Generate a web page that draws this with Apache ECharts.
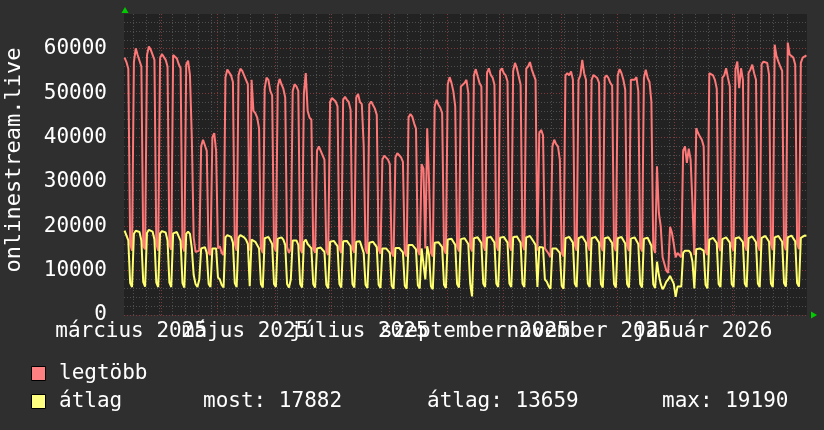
<!DOCTYPE html>
<html><head><meta charset="utf-8">
<script src="https://cdn.jsdelivr.net/npm/echarts@6/dist/echarts.min.js"></script>
<style>html,body{margin:0;padding:0;background:#2f2f2f}#c{width:824px;height:430px}</style>
</head><body><div id="c"></div>
<script>
// x = days since 2025-03-01; first value is Wed 2025-03-12
const startDay = 11;
const maxVals = [
 58000,57000,55500,16000,14500,
 57000,60100,58600,58800,56000,15500,14800,
 58500,60500,59800,59400,57500,16000,14500,
 57900,58800,58500,57500,56000,15800,14700,
 58600,58400,57800,56500,55600,15600,14300,
 56400,57300,54100,40000,17500,14200,13800,
 14500,38000,39500,39300,37000,14000,13500,
 40000,41000,37000,15000,15500,14000,13500,
 53500,55300,55000,54000,52500,16000,14500,
 54000,55500,55000,54000,53000,52000,14500,
 53000,46000,45500,44500,42000,15000,14000,
 51000,53500,53000,50500,49500,15500,14300,
 51500,53200,52000,51000,49000,15300,14000,
 15000,50500,52000,51500,50500,15000,14000,
 50000,54500,46000,44500,44000,15000,14000,
 37000,38000,37000,36000,35000,14500,13500,
 48000,48900,48500,48100,47000,15000,14000,
 48500,49200,48500,48000,46200,15000,14000,
 49000,49800,48000,47500,38300,14800,13800,
 47500,48100,48000,46500,45100,14800,13800,
 35000,35900,35500,35000,34000,14000,13200,
 35500,36500,36000,35500,34500,14000,13200,
 44500,45300,44700,43200,42000,14500,13500,
 34000,33000,15000,42100,30000,14000,13200,
 47000,48500,47400,46700,45500,14800,13800,
 52000,53600,52300,50400,47000,15500,14300,
 51500,51100,52300,53000,50000,15500,14300,
 54000,55400,53800,52300,51500,15800,14500,
 54500,55600,54100,53500,51900,15800,14500,
 55000,55600,54500,54000,52600,15800,14500,
 55000,56800,55600,55300,51900,16000,14600,
 55500,56000,57000,55300,54100,53000,14500,
 41000,41700,40500,15000,14800,13800,13000,
 38000,39500,38500,38000,35000,14000,13200,
 54000,54500,54000,54900,53000,15800,14500,
 53000,54000,57500,54500,53000,15800,14500,
 53000,54100,53800,53400,52300,15600,14400,
 53500,54000,53400,52300,51700,15600,14400,
 54000,55400,54500,53000,50800,15600,14400,
 53000,53400,53000,53600,50400,15500,14300,
 53400,55300,53400,52500,48100,15300,14000,
 33500,23000,20000,13000,11500,10000,9500,
 19900,18500,16000,13000,14000,13500,13000,
 37000,38000,34300,37500,35000,25000,13500,
 42100,41000,40200,39500,38000,14300,13500,
 54500,54500,54000,53000,51000,15600,14400,
 53500,54000,55600,53400,51500,15600,14400,
 55400,57100,51100,55600,53000,15800,14500,
 54500,55300,56400,54500,53000,15800,14500,
 56500,57100,57000,56800,54100,16000,14600,
 60900,58300,57100,56000,55000,16000,14600,
 61400,58700,59000,58000,56400,16200,14800,
 56800,58000,58400,58500
];
const avgVals = [
 19000,18700,16800,7200,6300,
 18300,19000,18900,18700,16800,7400,6400,
 18500,19190,19000,18800,17000,7300,6300,
 18400,18900,18900,18600,16800,7300,6300,
 18400,18800,18700,18500,16700,7200,6200,
 18300,18800,18300,15000,9000,7000,6300,
 8000,15000,15400,15300,14000,7000,6300,
 15000,15400,15000,8500,8000,6800,6200,
 17500,18000,17900,17600,16300,7200,6300,
 17400,18000,17900,17500,17000,16000,6500,
 17000,16800,16500,16200,15000,7000,6200,
 17300,17700,17600,17200,16000,7000,6300,
 17200,17600,17500,17000,15800,7000,6200,
 8000,16800,17000,16800,15800,7000,6200,
 16500,17000,16000,15500,15000,7000,6200,
 15000,15300,15200,15000,14200,6800,6000,
 16500,16800,16700,16500,15500,7000,6200,
 16600,16900,16700,16400,15500,7000,6200,
 16500,16900,16600,16300,14000,6800,6100,
 16300,16600,16500,16200,15300,6800,6100,
 15000,15200,15000,14800,14000,6600,5900,
 15100,15300,15100,14900,14100,6600,5900,
 15800,16000,15800,15500,14800,6700,6000,
 15000,14800,8000,15500,13500,6500,5800,
 16300,16600,16400,16200,15300,6800,6100,
 17000,17400,17200,16900,15800,7000,6200,
 17100,17300,17300,17200,16000,7000,4200,
 17300,17600,17500,17200,16200,7100,6300,
 17400,17700,17600,17300,16300,7100,6300,
 17400,17700,17600,17300,16300,7100,6300,
 17500,17800,17700,17400,16300,7100,6300,
 17500,17800,17800,17400,16500,15800,6300,
 15300,15500,15200,8000,7500,6500,5900,
 15000,15200,15000,14800,14000,6600,5900,
 17300,17600,17600,17500,16300,7100,6300,
 17300,17600,17700,17500,16300,7100,6300,
 17300,17600,17600,17400,16300,7000,6200,
 17300,17600,17500,17300,16200,7000,6200,
 17300,17700,17600,17300,16100,7000,6200,
 17200,17500,17500,17400,16000,7000,6200,
 17200,17600,17400,17200,15600,6900,6100,
 12000,9000,7000,5800,6500,7500,8000,
 8800,8600,7000,4100,6400,6200,6400,
 14000,14500,14300,14500,14000,12000,6000,
 14800,15000,15000,14900,14500,6800,6000,
 17000,17400,17400,17200,16200,7000,6300,
 17100,17500,17500,17300,16300,7000,6300,
 17300,17700,17500,17600,16400,7100,6300,
 17300,17700,17700,17500,16400,7100,6300,
 17400,17800,17800,17600,16500,7100,6300,
 17500,17900,17800,17600,16500,7200,6400,
 17500,17900,17900,17700,16600,7200,6400,
 17400,17800,17900,17882
];
// month labels sit at month start + 15 days
const labelDays = [15, 76, 137, 199, 260, 321];
const monthLabels = ['március 2025','május 2025','július 2025','szeptember 2025','november 2025','január 2026'];
const monthStarts = [31, 61, 92, 122, 153, 184, 214, 245, 275, 306, 337, 365];
const weekStarts = [16,23,30,37,44,51,58,65,72,79,86,93,100,107,114,121,128,135,142,149,156,163,170,177,184,191,198,205,212,219,226,233,240,247,254,261,268,275,282,289,296,303,310,317,324,331,338,345,352,359,366,373];
const yTitle = 'onlinestream.live';
const legendNames = ['legtöbb', 'átlag'];
const statTexts = ['most: 17882', 'átlag: 13659', 'max: 19190'];

const FONT = '"DejaVu Sans Mono", monospace';
const RED = '#ff7878', YEL = '#ffff70';
const minorGrid = {show:true, showMaxLine:false, lineStyle:{color:'#4e4e4e', type:[1,2], width:1}};
const majorGrid = {show:true, showMaxLine:false, lineStyle:{color:'#7e3a3a', type:[1,2], width:1}};
const labelsA = labelDays.filter((d,i)=>i%2===0);
const labelsB = labelDays.filter((d,i)=>i%2===1);
const fmt = (v)=>{const i=labelDays.indexOf(Math.round(v)); return i>=0?monthLabels[i]:'';};
const xLabel = (vals)=>({customValues:vals, hideOverlap:false, showMinLabel:true, showMaxLabel:true,
  color:'#ffffff', fontFamily:FONT, fontSize:21, margin:6, formatter:fmt});

const chart = echarts.init(document.getElementById('c'), null, {renderer:'canvas'});
chart.setOption({
  backgroundColor:'#2f2f2f',
  animation:false,
  grid:{left:124, right:17, top:14, bottom:115, show:true, backgroundColor:'#222222', borderWidth:0, containLabel:false, outerBoundsMode:'none'},
  xAxis:[
    {type:'value', min:11.2, max:376.8, position:'bottom',
     axisLine:{show:false}, axisTick:{show:false, customValues:weekStarts},
     splitLine:minorGrid, axisLabel:xLabel(labelsA)},
    {type:'value', min:11.2, max:376.8, position:'bottom',
     axisLine:{show:false}, axisTick:{show:false, customValues:monthStarts},
     splitLine:majorGrid, axisLabel:xLabel(labelsB)}
  ],
  yAxis:[
    {type:'value', min:0, max:67830, interval:2000, position:'left',
     axisLine:{show:false}, axisTick:{show:false}, axisLabel:{show:false}, splitLine:minorGrid},
    {type:'value', min:0, max:67830, interval:10000, position:'left',
     axisLine:{show:false}, axisTick:{show:false}, splitLine:majorGrid,
     axisLabel:{color:'#ffffff', fontFamily:FONT, fontSize:21, margin:17, showMaxLabel:false,
       formatter:(v)=>String(v)}}
  ],
  series:[
    {type:'line', name:legendNames[0], xAxisIndex:0, yAxisIndex:0, showSymbol:false, symbol:'none',
     lineStyle:{color:RED, width:2}, data:maxVals.map((v,i)=>[startDay+i+0.5, v]), z:3},
    {type:'line', name:legendNames[1], xAxisIndex:0, yAxisIndex:0, showSymbol:false, symbol:'none',
     lineStyle:{color:YEL, width:2}, data:avgVals.map((v,i)=>[startDay+i+0.5, v]), z:4}
  ],
  graphic:[
    {type:'polygon', shape:{points:[[121.5,13],[128.5,13],[125,7]]}, style:{fill:'#00cc00'}},
    {type:'polygon', shape:{points:[[811,311.5],[811,318.5],[817,315]]}, style:{fill:'#00cc00'}},
    {type:'text', x:14, y:160, rotation:Math.PI/2, style:{text:yTitle, font:'22px '+FONT, fill:'#ffffff', align:'center', verticalAlign:'middle'}},
    {type:'rect', shape:{x:31.5, y:366.5, width:14, height:14}, style:{fill:'#ff8080', stroke:'#000', lineWidth:1}},
    {type:'rect', shape:{x:31.5, y:394.5, width:14, height:14}, style:{fill:'#ffff80', stroke:'#000', lineWidth:1}},
    {type:'text', x:59, y:374, style:{text:legendNames[0], font:'21px '+FONT, fill:'#ffffff', verticalAlign:'middle'}},
    {type:'text', x:59, y:402, style:{text:legendNames[1], font:'21px '+FONT, fill:'#ffffff', verticalAlign:'middle'}},
    {type:'text', x:203, y:402, style:{text:statTexts[0], font:'21px '+FONT, fill:'#ffffff', verticalAlign:'middle'}},
    {type:'text', x:427, y:402, style:{text:statTexts[1], font:'21px '+FONT, fill:'#ffffff', verticalAlign:'middle'}},
    {type:'text', x:662, y:402, style:{text:statTexts[2], font:'21px '+FONT, fill:'#ffffff', verticalAlign:'middle'}}
  ]
});
</script></body></html>
